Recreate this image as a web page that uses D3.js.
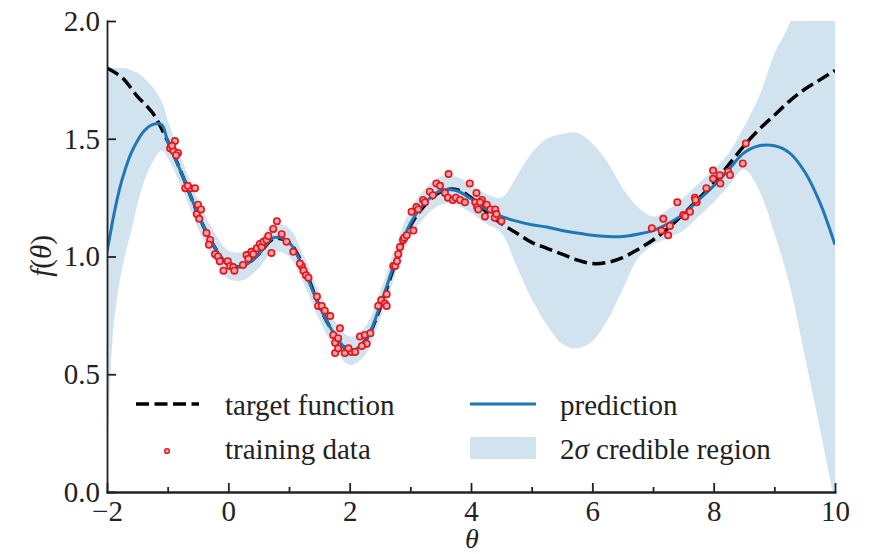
<!DOCTYPE html>
<meta charset="utf-8">
<style>
body { margin: 0; background: #fff; }
.axis path, .axis line { stroke: #222; stroke-width: 1.8; }
</style>

<svg width="869" height="554" font-family="Liberation Serif"></svg>

<script src="https://d3js.org/d3.v7.min.js"></script>
<script>

// target function
var targetX = [-2, -1.75, -1.5, -1.25, -1, -0.75, -0.5, -0.25, 0, 0.25, 0.5, 0.75, 1, 1.25, 1.5, 1.75, 2, 2.25, 2.5, 2.75, 3, 3.25, 3.5, 3.75, 4, 4.25, 4.5, 4.75, 5, 5.25, 5.5, 5.75, 6, 6.25, 6.5, 6.75, 7, 7.25, 7.5, 7.75, 8, 8.25, 8.5, 8.75, 9, 9.25, 9.5, 9.75, 10];
var targetY = [1.80, 1.76, 1.68, 1.61, 1.49, 1.34, 1.18, 1.05, 0.965, 0.96, 1.01, 1.075, 1.06, 0.95, 0.79, 0.67, 0.60, 0.64, 0.78, 0.97, 1.13, 1.22, 1.275, 1.285, 1.25, 1.19, 1.14, 1.10, 1.06, 1.035, 1.01, 0.985, 0.97, 0.975, 0.995, 1.03, 1.07, 1.12, 1.18, 1.245, 1.31, 1.39, 1.47, 1.54, 1.60, 1.66, 1.71, 1.75, 1.79];

// GP prediction and 2 sigma band
var predX = [-2, -1.95, -1.9, -1.8, -1.7, -1.6, -1.5, -1.4, -1.25, -1.1, -1, -0.75, -0.5, -0.25, 0, 0.25, 0.5, 0.75, 1, 1.25, 1.5, 1.75, 2, 2.25, 2.5, 2.75, 3, 3.25, 3.5, 3.75, 4, 4.25, 4.5, 4.75, 5, 5.25, 5.5, 5.75, 6, 6.25, 6.5, 6.75, 7, 7.25, 7.5, 7.75, 8, 8.25, 8.5, 8.75, 9, 9.25, 9.5, 9.75, 10];
var predMean = [1.02, 1.09, 1.16, 1.28, 1.37, 1.44, 1.49, 1.53, 1.56, 1.56, 1.49, 1.34, 1.18, 1.05, 0.965, 0.96, 1.01, 1.08, 1.06, 0.94, 0.79, 0.67, 0.60, 0.64, 0.79, 0.98, 1.14, 1.23, 1.28, 1.28, 1.245, 1.20, 1.17, 1.15, 1.135, 1.125, 1.11, 1.10, 1.09, 1.085, 1.085, 1.095, 1.11, 1.14, 1.18, 1.24, 1.30, 1.37, 1.44, 1.47, 1.47, 1.44, 1.36, 1.23, 1.05];
var predLow = [0.10, 0.45, 0.68, 0.88, 1.01, 1.11, 1.22, 1.31, 1.40, 1.45, 1.42, 1.28, 1.12, 0.99, 0.905, 0.90, 0.95, 1.02, 1.00, 0.88, 0.73, 0.61, 0.54, 0.58, 0.73, 0.92, 1.08, 1.17, 1.22, 1.22, 1.185, 1.14, 1.10, 0.96, 0.82, 0.71, 0.63, 0.61, 0.64, 0.73, 0.86, 0.99, 1.05, 1.08, 1.11, 1.17, 1.23, 1.30, 1.37, 1.28, 1.10, 0.88, 0.58, 0.27, -0.05];
var predHigh = [1.80, 1.80, 1.80, 1.80, 1.80, 1.79, 1.78, 1.76, 1.72, 1.66, 1.58, 1.40, 1.24, 1.11, 1.025, 1.02, 1.07, 1.14, 1.12, 1.00, 0.85, 0.73, 0.66, 0.70, 0.85, 1.04, 1.20, 1.29, 1.34, 1.34, 1.305, 1.265, 1.25, 1.34, 1.44, 1.50, 1.52, 1.525, 1.48, 1.40, 1.29, 1.21, 1.17, 1.20, 1.25, 1.31, 1.37, 1.44, 1.55, 1.68, 1.86, 1.99, 2.25, 2.6, 3.0];

// noisy training samples
var trainX = [-0.96, -0.91, -0.88, -0.83, -0.93, -0.86, -0.71, -0.63, -0.55, -0.67, -0.50, -0.52, -0.48, -0.45, -0.36, -0.30, -0.32, -0.22, -0.17, -0.14, -0.08, -0.01,
  0.03, 0.08, 0.10, 0.24, 0.30, 0.33, 0.38, 0.41, 0.47, 0.52, 0.55, 0.58, 0.63, 0.66, 0.74, 0.80, 0.71, 0.88, 0.96, 1.07,
  1.21, 1.24, 1.28, 1.32, 1.18, 1.46, 1.48, 1.54, 1.59, 1.68, 1.73, 1.76, 1.84, 1.81, 1.76, 1.81, 1.92, 2.03, 2.09, 1.98,
  2.17, 2.25, 2.34, 2.28, 2.20, 2.47, 2.52, 2.58, 2.61, 2.61, 2.72, 2.75, 2.78, 2.80, 2.83, 2.88, 2.90, 2.94,
  3.05, 3.02, 3.10, 3.13, 3.21, 3.24, 3.32, 3.37, 3.43, 3.49, 3.63, 3.57, 3.62, 3.70, 3.75, 3.82, 3.90, 3.98, 4.09, 4.07, 4.10, 4.12, 4.23, 4.26, 4.32, 4.39, 4.40, 4.42, 4.50, 4.18, 4.15,
  6.98, 7.17, 7.14, 7.28, 7.25, 7.40, 7.50, 7.53, 7.61, 7.69, 7.72, 7.70, 7.88, 7.99, 7.99, 8.10, 8.11, 8.24, 8.27, 8.48, 8.53];
var trainY = [1.46, 1.45, 1.49, 1.44, 1.47, 1.43, 1.29, 1.29, 1.29, 1.30, 1.22, 1.18, 1.16, 1.20, 1.10, 1.07, 1.05, 1.01, 1.00, 0.98, 0.94, 0.98,
  0.96, 0.955, 0.94, 0.964, 1.006, 0.99, 1.02, 1.01, 1.035, 1.053, 1.04, 1.063, 1.07, 1.087, 1.117, 1.15, 1.015, 1.095, 1.063, 1.02,
  0.96, 0.94, 0.92, 0.91, 0.97, 0.83, 0.79, 0.79, 0.77, 0.747, 0.667, 0.634, 0.695, 0.653, 0.59, 0.61, 0.59, 0.595, 0.595, 0.61,
  0.66, 0.667, 0.674, 0.63, 0.62, 0.79, 0.815, 0.80, 0.84, 0.79, 0.96, 0.96, 0.98, 1.01, 1.04, 1.07, 1.08, 1.09,
  1.11, 1.19, 1.21, 1.20, 1.24, 1.23, 1.275, 1.26, 1.31, 1.30, 1.35, 1.27, 1.25, 1.24, 1.25, 1.24, 1.23, 1.31, 1.27, 1.23, 1.21, 1.20, 1.17, 1.22, 1.20, 1.165, 1.20, 1.18, 1.15, 1.24, 1.23,
  1.12, 1.16, 1.11, 1.13, 1.09, 1.23, 1.176, 1.17, 1.19, 1.25, 1.23, 1.24, 1.29, 1.365, 1.33, 1.345, 1.31, 1.36, 1.346, 1.395, 1.48];

var xTicks = [-2, 0, 2, 4, 6, 8, 10];
var xMinor = [-1, 1, 3, 5, 7, 9];
var yTicks = [0.0, 0.5, 1.0, 1.5, 2.0];

var svg = d3.select("svg");
var m = {left: 107, right: 835, top: 21, bottom: 492};

var x = d3.scaleLinear().domain([-2, 10]).range([m.left, m.right]);
var y = d3.scaleLinear().domain([0, 2]).range([m.bottom, m.top]);

var target = targetX.map((t, i) => [t, targetY[i]]);
var pred = predX.map((t, i) => ({t: t, mu: predMean[i], lo: predLow[i], hi: predHigh[i]}));
var train = trainX.map((t, i) => [t, trainY[i]]);

svg.append("clipPath").attr("id", "plotclip")
  .append("rect")
    .attr("x", m.left).attr("y", m.top)
    .attr("width", m.right - m.left).attr("height", m.bottom - m.top);

var plot = svg.append("g").attr("clip-path", "url(#plotclip)");

var curve = d3.curveCatmullRom.alpha(0.5);

plot.append("path")
    .datum(pred)
    .attr("fill", "#d2e3f0")
    .attr("d", d3.area().curve(curve)
      .x(d => x(d.t)).y0(d => y(d.lo)).y1(d => y(d.hi)));

plot.append("path")
    .datum(target)
    .attr("fill", "none")
    .attr("stroke", "#000")
    .attr("stroke-width", 3.5)
    .attr("stroke-dasharray", "13,5.5")
    .attr("d", d3.line().curve(curve).x(d => x(d[0])).y(d => y(d[1])));

plot.append("path")
    .datum(pred)
    .attr("fill", "none")
    .attr("stroke", "#1f77b4")
    .attr("stroke-width", 3)
    .attr("d", d3.line().curve(curve).x(d => x(d.t)).y(d => y(d.mu)));

plot.append("g")
  .selectAll("circle")
  .data(train)
  .enter().append("circle")
    .attr("cx", d => x(d[0]))
    .attr("cy", d => y(d[1]))
    .attr("r", 3.2)
    .attr("fill", "#f3a3a3")
    .attr("stroke", "#e3141c")
    .attr("stroke-width", 1.6);

// axes, ticks pointing inward
svg.append("g")
    .attr("class", "axis")
    .attr("transform", "translate(0," + m.bottom + ")")
    .call(d3.axisBottom(x).tickValues(xMinor).tickSizeInner(-5).tickSizeOuter(0).tickFormat(""));

svg.append("g")
    .attr("class", "axis")
    .attr("transform", "translate(0," + m.bottom + ")")
    .call(d3.axisBottom(x).tickValues(xTicks).tickSizeInner(-9).tickSizeOuter(0)
      .tickPadding(8).tickFormat(d3.format(".0f")));

svg.append("g")
    .attr("class", "axis")
    .attr("transform", "translate(" + m.left + ",0)")
    .call(d3.axisLeft(y).tickValues(yTicks).tickSizeInner(-9).tickSizeOuter(0)
      .tickPadding(7).tickFormat(d3.format(".1f")));

svg.selectAll(".axis").attr("font-family", null).attr("font-size", null);
svg.selectAll(".axis .domain").attr("stroke-linecap", "square");

// axis titles
svg.append("text")
    .attr("x", 472).attr("y", 548)
    .attr("text-anchor", "middle")
    .style("font-style", "italic")
    .text("θ");

var yl = svg.append("text")
    .attr("transform", "translate(51,256) rotate(-90)")
    .attr("text-anchor", "middle");
yl.append("tspan").style("font-style", "italic").text("f");
yl.append("tspan").text("(");
yl.append("tspan").style("font-style", "italic").text("θ");
yl.append("tspan").text(")");

// legend
var leg = svg.append("g");

leg.append("line")
    .attr("x1", 136).attr("x2", 199).attr("y1", 404).attr("y2", 404)
    .attr("stroke", "#000").attr("stroke-width", 3.5).attr("stroke-dasharray", "13,5.5");
leg.append("text").attr("x", 225).attr("y", 415).text("target function");

leg.append("circle")
    .attr("cx", 167).attr("cy", 451).attr("r", 2.4)
    .attr("fill", "#f3a3a3").attr("stroke", "#e3141c").attr("stroke-width", 1.4);
leg.append("text").attr("x", 225).attr("y", 459).text("training data");

leg.append("line")
    .attr("x1", 470).attr("x2", 536).attr("y1", 404).attr("y2", 404)
    .attr("stroke", "#1f77b4").attr("stroke-width", 3);
leg.append("text").attr("x", 560).attr("y", 415).text("prediction");

leg.append("rect")
    .attr("x", 470).attr("y", 437).attr("width", 66).attr("height", 22)
    .attr("fill", "#d2e3f0");
var lt = leg.append("text").attr("x", 560).attr("y", 459);
lt.append("tspan").text("2");
lt.append("tspan").style("font-style", "italic").text("σ");
lt.append("tspan").text(" credible region");

// every label in the serif face
svg.selectAll("text")
    .style("font-family", "'Liberation Serif', serif", "important")
    .style("font-size", "29px")
    .attr("fill", "#222");
svg.select("text[x='472']").style("font-size", "28px");

</script>
